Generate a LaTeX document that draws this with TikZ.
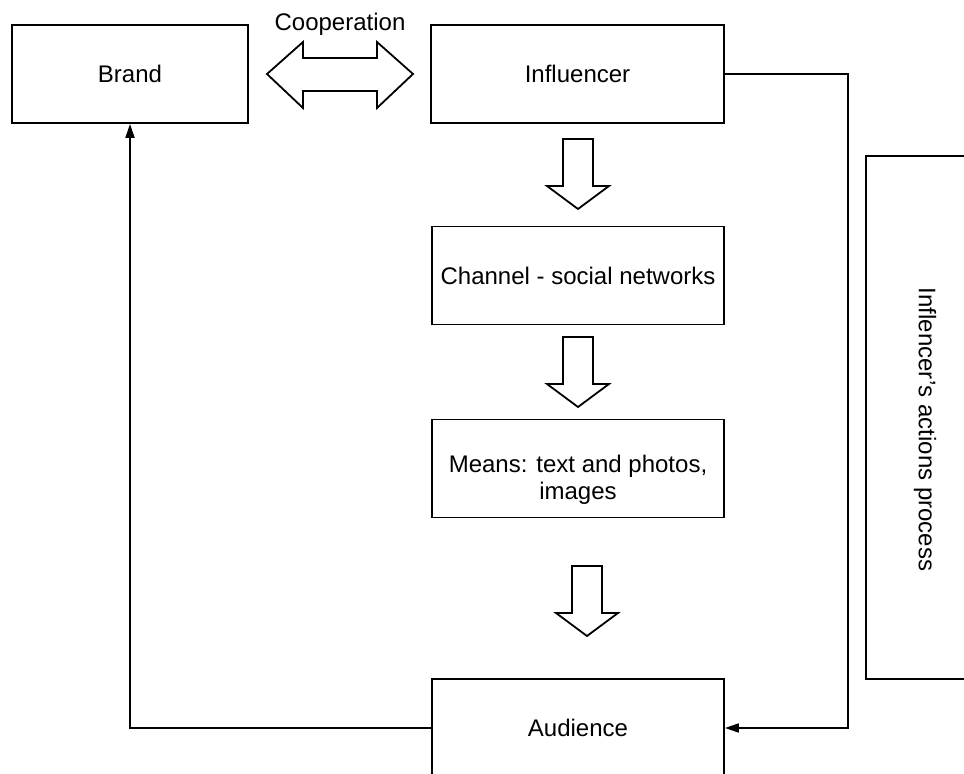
\documentclass[tikz,border=0pt]{standalone}
\usepackage{fontspec}
\setmainfont{Liberation Sans}
\usetikzlibrary{arrows.meta}
\tikzset{
  stage/.style={draw, line width=0.9pt, minimum width=146pt, minimum height=49pt,
    inner sep=2pt, align=center, font=\fontsize{12}{13.8}\selectfont},
  blockarrow/.style={draw, line width=0.9pt, fill=white, line join=miter},
  link/.style={draw, line width=0.9pt, -{Triangle[length=7pt,width=4.5pt]}}
}
\begin{document}
\begin{tikzpicture}[x=0.5pt, y=-0.5pt]
  \useasboundingbox (0,0) rectangle (964,774);
  \clip (0,0) rectangle (964,774);
  % boxes
  \node[stage, minimum width=118pt] (brand) at (130,74) {Brand};
  \node[stage, minimum width=146.5pt] (influencer) at (577.5,74) {Influencer};
  \node[stage] (channel) at (578,275.5) {Channel - social networks};
  \node[stage] (means) at (578,468.5) {\rule{0pt}{20pt}Means: text and photos,\\images};
  \node[stage] (audience) at (578,728) {Audience};
  \node[stage, rotate=-90, minimum width=261.5pt, minimum height=59pt] (process) at (925,417.5) {};
  \node[rotate=-90, inner sep=0pt, font=\fontsize{12}{14}\selectfont] (processtext)
    at ([yshift=-6pt]process.center) {Inflencer's actions process};
  % cooperation
  \draw[blockarrow] (267,74) -- (303,42) -- (303,58) -- (377,58) -- (377,42) -- (413,74)
    -- (377,108) -- (377,91) -- (303,91) -- (303,108) -- cycle;
  \node[font=\fontsize{12}{14}\selectfont, inner sep=0pt] (coop) at (340,24) {Cooperation};
  % down arrows
  \foreach \cx/\ty in {578/139, 578/337, 587/566}
    \draw[blockarrow] (\cx-15,\ty) -- (\cx+15,\ty) -- (\cx+15,\ty+47) -- (\cx+31,\ty+47)
      -- (\cx,\ty+70) -- (\cx-31,\ty+47) -- (\cx-15,\ty+47) -- cycle;
  % feedback lines
  \coordinate (bend) at (848,74);
  \draw[link] (influencer.east) -- (bend) |- (audience.east);
  \draw[link] (audience.west) -| (brand.south);
\end{tikzpicture}
\end{document}
